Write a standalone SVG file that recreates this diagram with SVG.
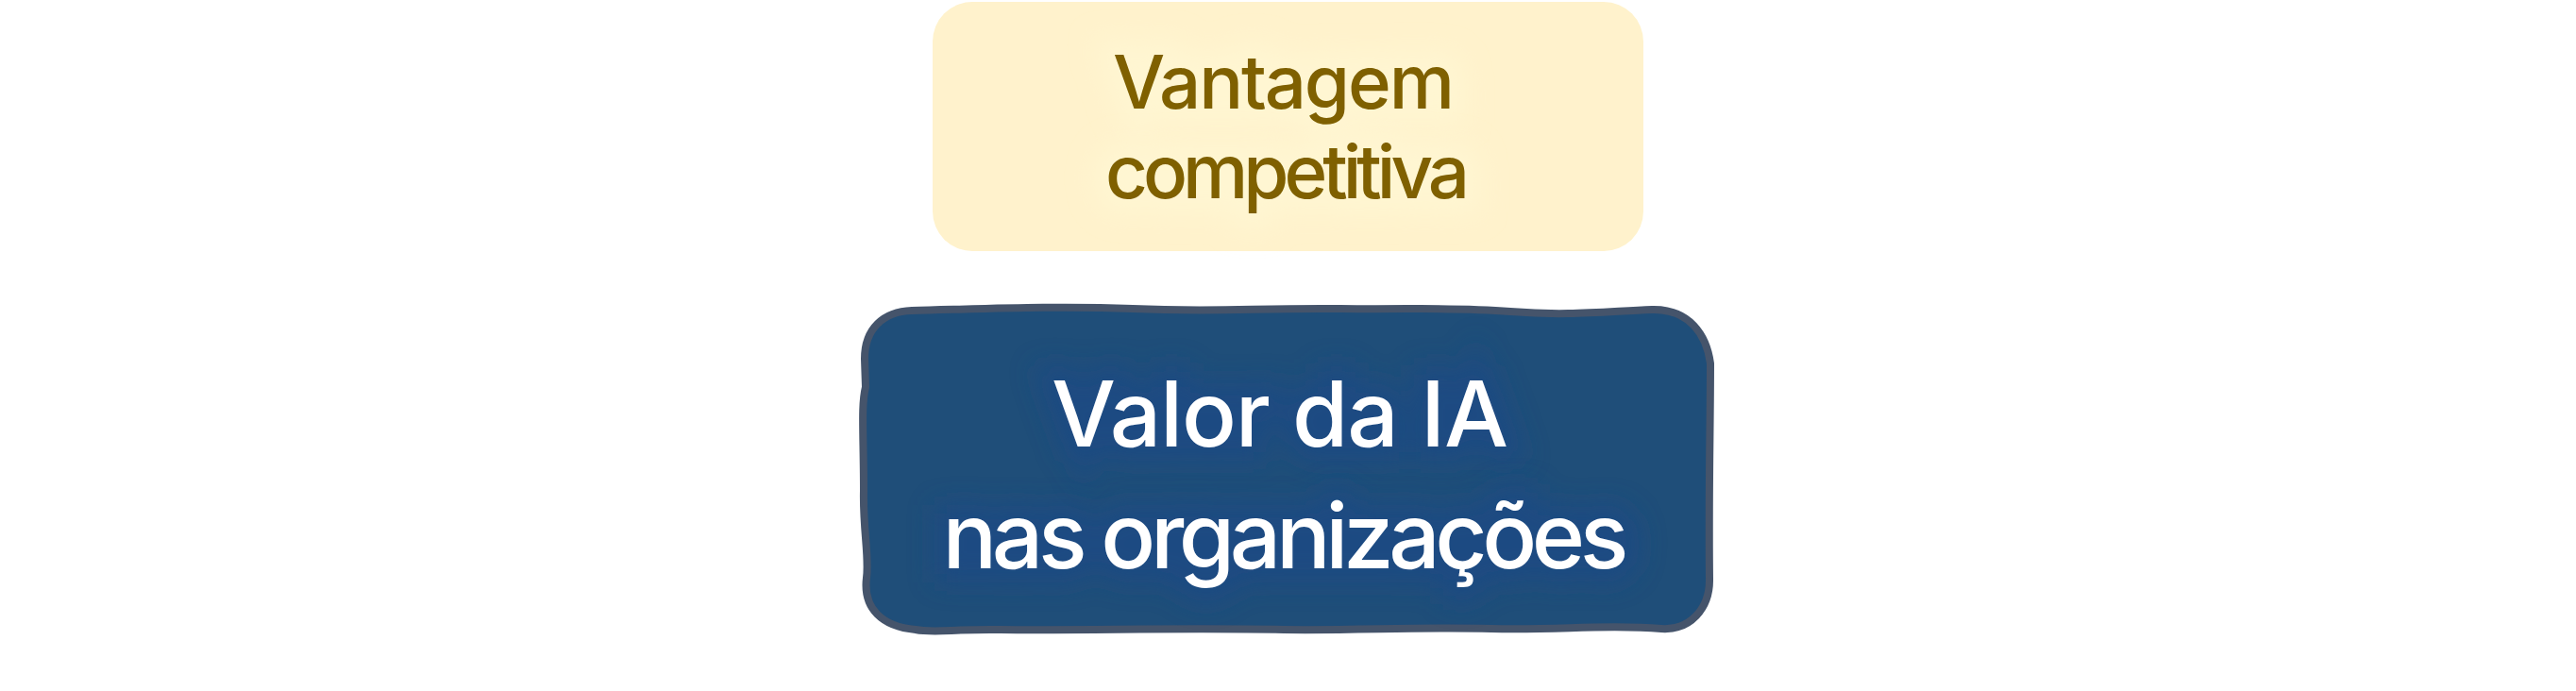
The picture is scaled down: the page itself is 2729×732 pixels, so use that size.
<svg xmlns="http://www.w3.org/2000/svg" width="2729" height="732" viewBox="0 0 2729 732">
<defs>
<style>
.t{font-family:Inter,"Liberation Sans",sans-serif;font-weight:500;text-anchor:middle}
.ty{fill:#7f6000;font-size:78px}
.tb{fill:#ffffff;font-size:96px}
.gy{fill:#fff6d2;stroke:#fff6d2;stroke-width:30;filter:url(#blur)}
.gb{fill:#1c4a86;stroke:#1c4a86;stroke-width:30;filter:url(#blur);opacity:0.7}
</style>
<filter id="blur" x="-20%" y="-50%" width="140%" height="200%"><feGaussianBlur stdDeviation="14"/></filter>
</defs>
<rect width="2729" height="732" fill="#ffffff"/>
<g id="node-vantagem">
<rect x="988" y="2" width="753" height="264" rx="42" ry="42" fill="#fff2cc"/>
<text class="t gy" x="1360" y="115" font-size="78" textLength="362" lengthAdjust="spacing">Vantagem</text>
<text class="t gy" x="1364" y="210" font-size="78" textLength="386" lengthAdjust="spacing">competitiva</text>
<text class="t ty" x="1360" y="115" textLength="362" lengthAdjust="spacing">Vantagem</text>
<text class="t ty" x="1364" y="210" textLength="386" lengthAdjust="spacing">competitiva</text>
</g>
<g id="node-valor">
<path d="M 916 380 C 916 348 936 330 966 329 C 1050 327 1120 324 1200 327 C 1290 331 1330 326 1420 327 C 1500 328 1540 325 1600 330 C 1660 335 1700 330 1750 328 C 1790 327 1808 355 1812 385 C 1812 450 1810 520 1811 612 C 1812 645 1790 668 1760 666 C 1700 661 1650 668 1580 666 C 1500 664 1440 668 1360 667 C 1250 665 1150 668 1060 667 C 1010 666 990 671 970 667 C 935 664 914 645 918 612 C 921 590 914 560 915 520 C 915 460 912 430 917 410 Z" fill="#1f4e79" stroke="#45546b" stroke-width="8" stroke-linejoin="round"/>
<text class="t gb" x="1356" y="473" font-size="96" textLength="484" lengthAdjust="spacing">Valor da IA</text>
<text class="t gb" x="1362" y="602" font-size="96" textLength="727" lengthAdjust="spacing">nas organizações</text>
<text class="t tb" x="1356" y="473" textLength="484" lengthAdjust="spacing">Valor da IA</text>
<text class="t tb" x="1362" y="602" textLength="727" lengthAdjust="spacing">nas organizações</text>
</g>
<g id="connectors"></g>
</svg>
